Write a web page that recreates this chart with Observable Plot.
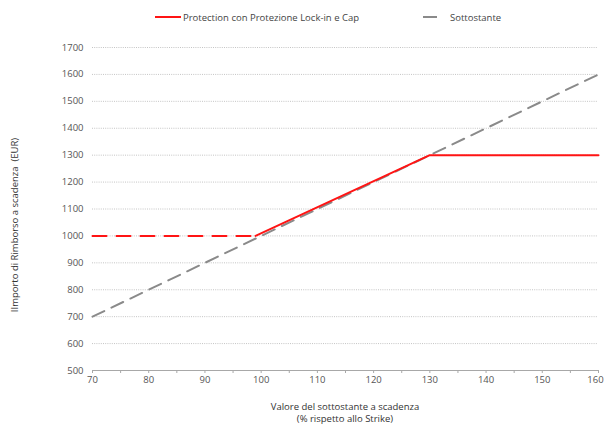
<!DOCTYPE html>
<html><head><meta charset="utf-8">
<script src="https://cdn.jsdelivr.net/npm/d3@7"></script>
<script src="https://cdn.jsdelivr.net/npm/@observablehq/plot@0.6"></script>
<style>
body{margin:0;background:#fff;font-family:"Open Sans",sans-serif}
#wrap{position:relative;width:605px;height:424px;overflow:hidden}
#legend{position:absolute;left:0;top:0}
#chart{position:absolute;left:0;top:35px}
#ylab{position:absolute;left:14px;top:225px;transform:translate(-50%,-50%) rotate(-90deg);white-space:pre;font-size:9.5px;color:#333}
#xlab{position:absolute;left:0;width:690px;top:401px;text-align:center;font-size:9.5px;color:#333;line-height:12px}
</style></head>
<body><div id="wrap">
<div id="legend"></div>
<div id="chart"></div>
<div id="ylab">IImporto di Rimborso a scadenza  (EUR)</div>
<div id="xlab">Valore del sottostante a scadenza<br>(% rispetto allo Strike)</div>
</div>
<script>
// Data
const seriesNames = ["Protection con Protezione Lock-in e Cap", "Sottostante"];
const protectionFloorX = [70, 99];
const protectionFloorY = [1000, 1000];
const protectionX = [99, 130, 160];
const protectionY = [1000, 1300, 1300];
const underlyingX = [70, 160];
const underlyingY = [700, 1600];
const xTicks = [70, 75, 80, 85, 90, 95, 100, 105, 110, 115, 120, 125, 130, 135, 140, 145, 150, 155, 160];
const yTicks = [500, 600, 700, 800, 900, 1000, 1100, 1200, 1300, 1400, 1500, 1600, 1700];

const floorData = protectionFloorX.map((x, i) => ({x, y: protectionFloorY[i]}));
const protData = protectionX.map((x, i) => ({x, y: protectionY[i]}));
const undData = underlyingX.map((x, i) => ({x, y: underlyingY[i]}));

const RED = "#ff1414", GRAY = "#8a8a8a";
const lastTick = xTicks[xTicks.length - 1];

const chart = Plot.plot({
  width: 605, height: 360,
  marginLeft: 92, marginRight: 7, marginTop: 12, marginBottom: 25,
  style: {fontFamily: "Open Sans, sans-serif", fontSize: "9.5px", color: "#555", background: "#fff"},
  x: {domain: [70, 160], label: null},
  y: {domain: [500, 1700], label: null},
  marks: [
    Plot.ruleY(yTicks.filter(d => d > 500), {stroke: "#c4c4c4", strokeDasharray: "1,1.2", strokeWidth: 1}),
    Plot.ruleY([500], {stroke: "#a8a8a8", strokeWidth: 1}),
    Plot.axisX({ticks: xTicks, tickFormat: d => d % 10 === 0 && d !== lastTick ? String(d) : "", tickSize: 3, stroke: "#a8a8a8", tickPadding: 3, label: null}),
    Plot.axisX({ticks: [lastTick], tickFormat: d => String(d), tickSize: 0, tickPadding: 6, dx: -3, label: null}),
    Plot.axisY({ticks: yTicks, tickFormat: d => String(d), tickSize: 0, tickPadding: 9, label: null}),
    Plot.line(undData, {x: "x", y: "y", stroke: GRAY, strokeWidth: 2, strokeDasharray: "13,8"}),
    Plot.line(floorData, {x: "x", y: "y", stroke: RED, strokeWidth: 2, strokeDasharray: "14,10"}),
    Plot.line(protData, {x: "x", y: "y", stroke: RED, strokeWidth: 2})
  ]
});
document.getElementById("chart").append(chart);

// Legend
const lg = d3.select("#legend").append("svg").attr("width", 605).attr("height", 35)
  .style("font-family", "Open Sans, sans-serif").style("font-size", "9.5px");
lg.append("line").attr("x1", 155).attr("x2", 181).attr("y1", 17).attr("y2", 17).attr("stroke", RED).attr("stroke-width", 2);
lg.append("text").attr("x", 183).attr("y", 20.5).attr("fill", "#444").text(seriesNames[0]);
lg.append("line").attr("x1", 423).attr("x2", 437).attr("y1", 17).attr("y2", 17).attr("stroke", GRAY).attr("stroke-width", 2);
lg.append("text").attr("x", 450).attr("y", 20.5).attr("fill", "#444").text(seriesNames[1]);
</script>
</body></html>
